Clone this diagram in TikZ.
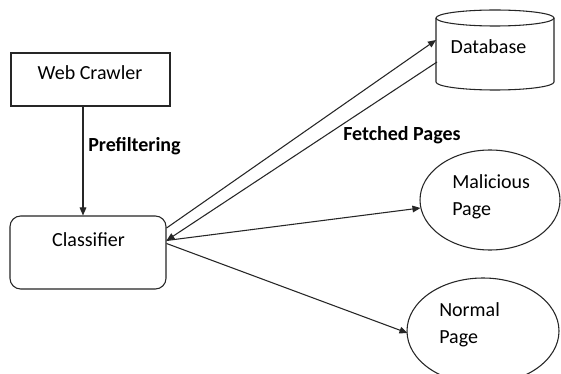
\documentclass[tikz,border=0pt]{standalone}
\usepackage{fontspec}
\setmainfont{Carlito}
\usetikzlibrary{arrows.meta,calc,shapes.geometric}
\begin{document}
\begin{tikzpicture}[x=0.75pt,y=-0.75pt,
  txt/.style={font=\fontsize{15}{20}\selectfont, inner sep=0pt, text=black},
  btxt/.style={font=\fontsize{15}{20}\selectfont\bfseries, inner sep=0pt, text=black},
  ln/.style={draw=black!85, line width=0.8pt},
  arr/.style={ln, -{Triangle[length=6pt,width=5pt]}},
  ell/.style={ln, ellipse, inner sep=0pt}]
\useasboundingbox (0,0) rectangle (561,374);
\fill[white] (0,0) rectangle (561,374);
% Web Crawler
\node[ln, rectangle, inner sep=0pt, minimum width=159*0.75pt, minimum height=53*0.75pt] (wc) at (90.5,79.5) {};
\node[txt] (wct) at (90,73) {Web Crawler};
% Classifier
\node[ln, rectangle, rounded corners=8pt, inner sep=0pt, minimum width=156*0.75pt, minimum height=73*0.75pt] (cl) at (88,252.5) {};
\node[txt] (clt) at (88.5,240) {Classifier};
% Database cylinder
\coordinate (db) at (495,50);
\coordinate (dbw) at (436,50);
\draw[ln] (436,18) arc[start angle=180, end angle=-180, x radius=59, y radius=8];
\draw[ln] (436,18) -- (436,82) arc[start angle=180, end angle=0, x radius=59, y radius=8] -- (554,18);
\node[txt] (dbt) at (488.5,47) {Database};
% Ellipses
\node[ell, minimum width=140*0.75pt, minimum height=100*0.75pt] (mal) at (490,200) {};
\node[txt, anchor=west, align=left] (malt) at (452,197) {Malicious\\Page};
\node[ell, minimum width=152*0.75pt, minimum height=106*0.75pt] (nor) at (483,331) {};
\node[txt, anchor=west, align=left] (nort) at (439,325) {Normal\\Page};
% Labels
\node[btxt, anchor=west] (pf) at (88,146) {Prefiltering};
\node[btxt, anchor=west] (fp) at (343,135) {Fetched Pages};
% Connectors
\draw[arr] ($(wc.south)+(-7.5,0)$) -- ($(cl.north)+(-5,0)$);
\draw[arr] ($(cl.east)+(0,-24.5)$) -- ($(dbw)+(0,-10)$);
\draw[arr] ($(dbw)+(1,12)$) -- ($(cl.east)+(0,-12)$);
\draw[arr] ($(cl.east)+(0,-12)$) -- ($(mal.west)+(1,8)$);
\draw[arr] ($(cl.east)+(0,-9)$) -- ($(nor.west)+(1,2)$);
\end{tikzpicture}
\end{document}
